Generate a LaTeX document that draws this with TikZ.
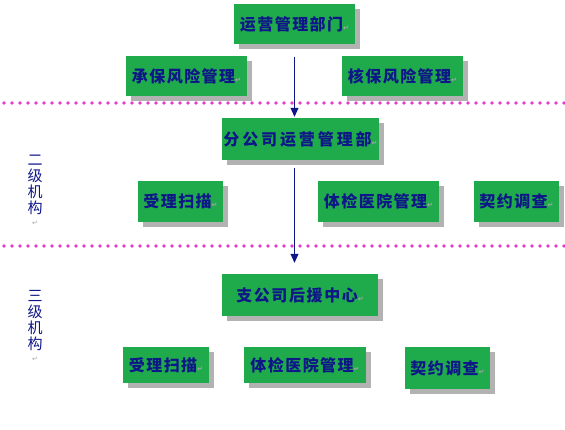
\documentclass[tikz,border=0pt]{standalone}
\usepackage{fontspec}
\newfontfamily\cjk{Noto Sans CJK SC}
\newfontfamily\markfont{DejaVu Sans}
\usepackage{tikz}
\usetikzlibrary{shadows}
\usetikzlibrary{arrows.meta}
\definecolor{boxgreen}{RGB}{31,170,76}
\definecolor{boxshade}{RGB}{178,178,178}
\definecolor{navy}{RGB}{14,22,136}
\definecolor{dotpink}{RGB}{232,56,200}
\tikzset{
  unit/.style={fill=boxgreen, text=navy, inner sep=0pt, minimum height=40pt,
    font=\cjk\bfseries\fontsize{16}{16}\selectfont\addfontfeature{LetterSpace=9},
    drop shadow={shadow xshift=5pt, shadow yshift=-5pt, fill=boxshade, opacity=1}},
  tier/.style={text=navy, align=center, anchor=north, font=\cjk\fontsize{15}{16}\selectfont},
  sepline/.style={dotpink, line width=3.6pt, line cap=round, dash pattern=on 0pt off 8pt},
  down/.style={navy, line width=0.9pt, -{Triangle[width=8pt,length=9pt]}}
}
\newcommand{\pmark}{{\markfont\color{gray!70}\fontsize{7}{7}\selectfont ↵}}
\newcommand{\spread}[1]{\addfontfeature{LetterSpace=#1}}

\begin{document}
\begin{tikzpicture}[x=1pt,y=-1pt]
            \useasboundingbox (0,0) rectangle (565,430);

            % separators
            \draw[sepline] (4,103) -- (565,103);
            \draw[sepline] (4,246) -- (565,246);

            \node (yy)  [unit, minimum width=121pt]                    at (294.5,24)  {运营管理部门\pmark};
            \node (cb)  [unit, minimum width=121pt]                    at (186.5,76)  {承保风险管理\pmark};
            \node (hb)  [unit, minimum width=121pt]                    at (402.5,76)  {核保风险管理\pmark};
            \node (fgs) [unit, minimum width=157pt, minimum height=42pt] at (300.5,139) {\spread{18}分公司运营管理部\pmark};
            \node (sl2) [unit, minimum width=85pt, minimum height=41pt]  at (180.5,201.5) {受理扫描\pmark};
            \node (tj2) [unit, minimum width=121pt, minimum height=41pt] at (378.5,201.5) {体检医院管理\pmark};
            \node (qy2) [unit, minimum width=85pt, minimum height=41pt]  at (516.5,201.5) {契约调查\pmark};
            \node (zgs) [unit, minimum width=156pt, minimum height=42pt] at (300,295)   {\spread{10}支公司后援中心\pmark};
            \node (sl3) [unit, minimum width=86pt, minimum height=36pt]  at (166,365)   {受理扫描\pmark};
            \node (tj3) [unit, minimum width=122pt, minimum height=36pt] at (305,365)   {体检医院管理\pmark};
            \node (qy3) [unit, minimum width=85pt, minimum height=42pt]  at (447.5,368) {契约调查\pmark};

            \node (t2) [tier] at (35,152) {二\\级\\机\\构\\[-4pt]\pmark};
            \node (t3) [tier] at (35,287) {三\\级\\机\\构\\[-4pt]\pmark};

            \coordinate (a1) at (294.5,57);
            \coordinate (a2) at (294.5,168);
            \draw[down, shorten >=1pt]  (a1) -- (a1 |- fgs.north);
            \draw[down, shorten >=11pt] (a2) -- (a2 |- zgs.north);
\end{tikzpicture}
\end{document}
